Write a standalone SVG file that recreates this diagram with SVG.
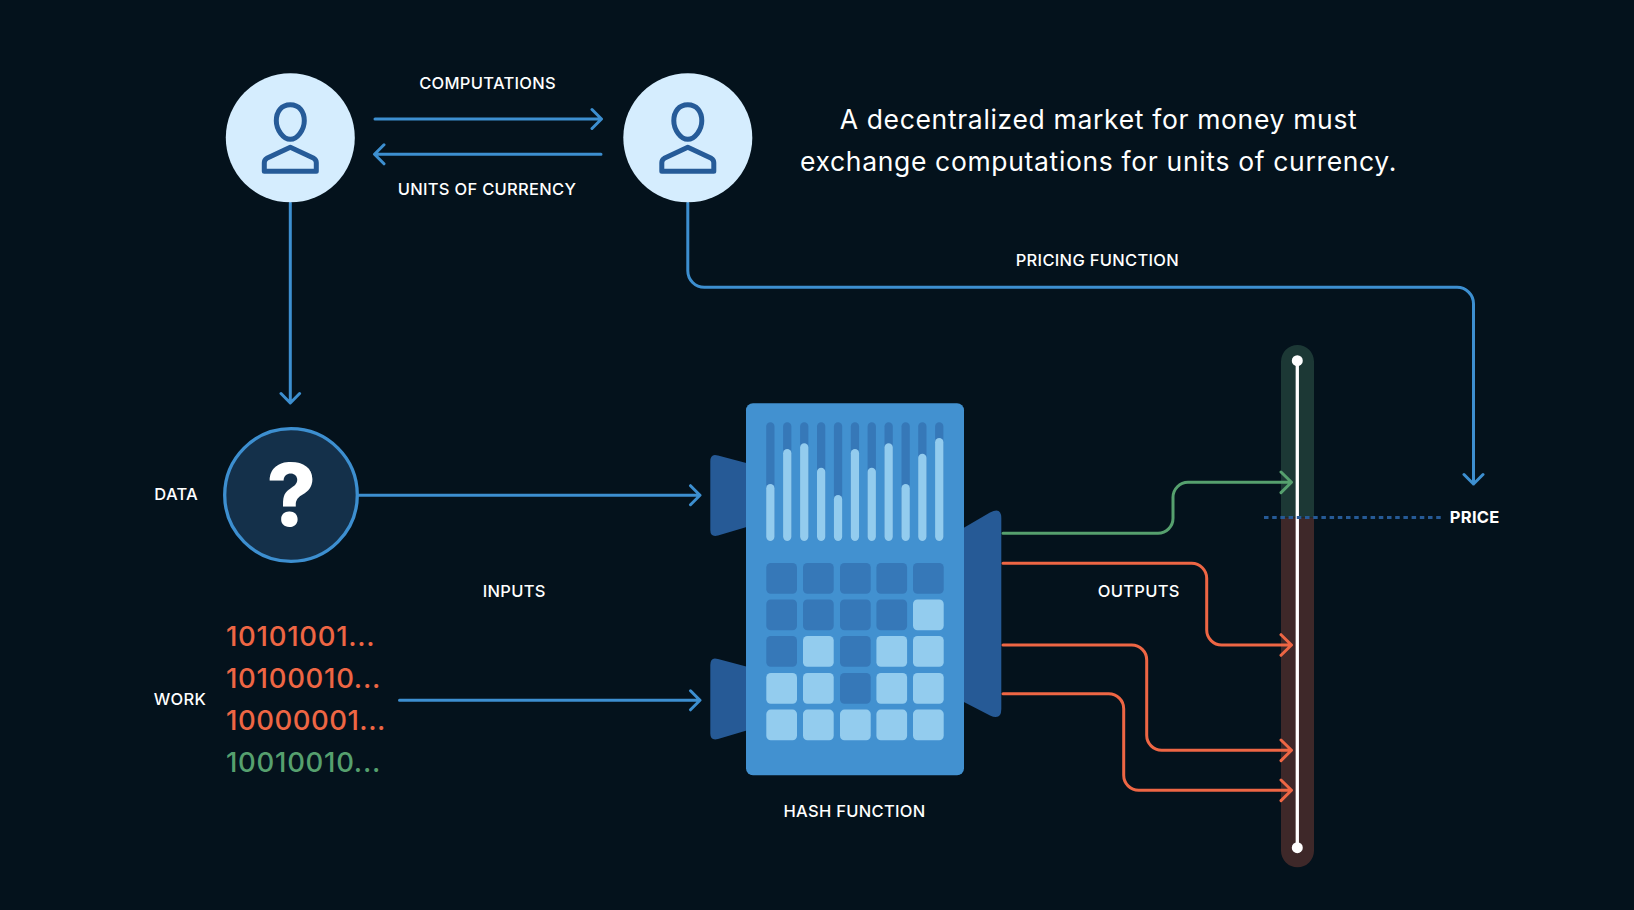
<svg xmlns="http://www.w3.org/2000/svg" width="1634" height="910" viewBox="0 0 1634 910">
<style>
.lb{font-family:Inter,"Liberation Sans",sans-serif;font-size:16.5px;font-weight:500;fill:#fff;text-anchor:middle;letter-spacing:.3px}
.hd{font-family:Inter,"Liberation Sans",sans-serif;font-size:26.5px;font-weight:400;fill:#fff;text-anchor:middle;letter-spacing:.66px}
.nm{font-family:Inter,"Liberation Sans",sans-serif;font-size:27.5px;font-weight:500;fill:#ee6644;letter-spacing:.7px}
.ic{fill:none;stroke:#265b98;stroke-width:5;stroke-linejoin:round}
.c{fill:none;stroke-width:3;stroke-linecap:round;stroke-linejoin:round}
.b{stroke:#3d8fd0}.g{stroke:#56a06e}.o{stroke:#ee6644}
.d{fill:#3678b8}.l{fill:#93ccee}.w{fill:#265a96}
</style>
<defs>
<g id="person"><circle r="64.500" fill="#d5edfe"/><path class="ic" d="M0-33C9-33 14-26 14-17C14-8 7 1.500 0 1.500C-7 1.500-14-8-14-17C-14-26-9-33 0-33Z"/><path class="ic" d="M0 9.500L23.500 20.500Q26 22 26 25V33.500H-26V25Q-26 22-23.500 20.500Z"/></g>
</defs>
<rect width="1634" height="910" fill="#04121c"/>
<g id="meter"><path d="M1281 517.500V361.500a16.500 16.500 0 0 1 33 0V517.500Z" fill="#1c3835"/><path d="M1281 517.500V850.800a16.500 16.500 0 0 0 33 0V517.500Z" fill="#3e2829"/><line x1="1297.300" y1="361" x2="1297.300" y2="848" stroke="#fff" stroke-width="3.300"/><circle cx="1297.300" cy="360.700" r="5.500" fill="#fff"/><circle cx="1297.300" cy="847.700" r="5.500" fill="#fff"/></g>
<g id="hash-function">
<path class="w" d="M710.300 461.500Q710.300 453 718 455.500L750 464V526L718 535.500Q710.300 537.500 710.300 530Z"/>
<path class="w" d="M710.300 665Q710.300 656.500 718 659L750 667.500V729.500L718 739Q710.300 741 710.300 733.500Z"/>
<path class="w" d="M960 530L990 512.500Q1001.300 506.500 1001.300 518V709Q1001.300 720.500 990 715.500L960 700Z"/>
<rect x="746" y="403.300" width="218" height="372" rx="7" fill="#4291d0"/>
<g class="d"><rect x="766.200" y="422.300" width="8.300" height="118.700" rx="4.150"/><rect x="783.100" y="422.300" width="8.300" height="118.700" rx="4.150"/><rect x="800.100" y="422.300" width="8.300" height="118.700" rx="4.150"/><rect x="817" y="422.300" width="8.300" height="118.700" rx="4.150"/><rect x="833.900" y="422.300" width="8.300" height="118.700" rx="4.150"/><rect x="850.800" y="422.300" width="8.300" height="118.700" rx="4.150"/><rect x="867.600" y="422.300" width="8.300" height="118.700" rx="4.150"/><rect x="884.500" y="422.300" width="8.300" height="118.700" rx="4.150"/><rect x="901.500" y="422.300" width="8.300" height="118.700" rx="4.150"/><rect x="918.200" y="422.300" width="8.300" height="118.700" rx="4.150"/><rect x="935.100" y="422.300" width="8.300" height="118.700" rx="4.150"/></g>
<g class="l"><rect x="766.200" y="484" width="8.300" height="57" rx="4.150"/><rect x="783.100" y="449" width="8.300" height="92" rx="4.150"/><rect x="800.100" y="443.300" width="8.300" height="97.700" rx="4.150"/><rect x="817" y="467.700" width="8.300" height="73.300" rx="4.150"/><rect x="833.900" y="495" width="8.300" height="46" rx="4.150"/><rect x="850.800" y="449" width="8.300" height="92" rx="4.150"/><rect x="867.600" y="467.700" width="8.300" height="73.300" rx="4.150"/><rect x="884.500" y="443.300" width="8.300" height="97.700" rx="4.150"/><rect x="901.500" y="484" width="8.300" height="57" rx="4.150"/><rect x="918.200" y="453.700" width="8.300" height="87.300" rx="4.150"/><rect x="935.100" y="438" width="8.300" height="103" rx="4.150"/></g>
<g class="d"><rect x="766.300" y="563" width="30.700" height="30.700" rx="4.500"/><rect x="803" y="563" width="30.700" height="30.700" rx="4.500"/><rect x="840" y="563" width="30.700" height="30.700" rx="4.500"/><rect x="876.400" y="563" width="30.700" height="30.700" rx="4.500"/><rect x="913" y="563" width="30.700" height="30.700" rx="4.500"/>
<rect x="766.300" y="599.500" width="30.700" height="30.700" rx="4.500"/><rect x="803" y="599.500" width="30.700" height="30.700" rx="4.500"/><rect x="840" y="599.500" width="30.700" height="30.700" rx="4.500"/><rect x="876.400" y="599.500" width="30.700" height="30.700" rx="4.500"/>
<rect x="766.300" y="636" width="30.700" height="30.700" rx="4.500"/><rect x="840" y="636" width="30.700" height="30.700" rx="4.500"/>
<rect x="840" y="673" width="30.700" height="30.700" rx="4.500"/></g>
<g class="l"><rect x="913" y="599.500" width="30.700" height="30.700" rx="4.500"/>
<rect x="803" y="636" width="30.700" height="30.700" rx="4.500"/><rect x="876.400" y="636" width="30.700" height="30.700" rx="4.500"/><rect x="913" y="636" width="30.700" height="30.700" rx="4.500"/>
<rect x="766.300" y="673" width="30.700" height="30.700" rx="4.500"/><rect x="803" y="673" width="30.700" height="30.700" rx="4.500"/><rect x="876.400" y="673" width="30.700" height="30.700" rx="4.500"/><rect x="913" y="673" width="30.700" height="30.700" rx="4.500"/>
<rect x="766.300" y="709.600" width="30.700" height="30.700" rx="4.500"/><rect x="803" y="709.600" width="30.700" height="30.700" rx="4.500"/><rect x="840" y="709.600" width="30.700" height="30.700" rx="4.500"/><rect x="876.400" y="709.600" width="30.700" height="30.700" rx="4.500"/><rect x="913" y="709.600" width="30.700" height="30.700" rx="4.500"/></g>
</g>
<g id="connectors">
<path class="c b" d="M375 119H601M592 109.500L601.500 119L592 128.500"/>
<path class="c b" d="M601 154.300H375M384 144.800L374.500 154.300L384 163.800"/>
<path class="c b" d="M290.300 203V402M281 393.500L290.300 403L299.600 393.500"/>
<path class="c b" d="M687.800 203V270.800a16.500 16.500 0 0 0 16.500 16.500H1457a16.500 16.500 0 0 1 16.500 16.500V484M1464 474.500L1473.500 484L1483 474.500"/>
<path class="c b" d="M359 495.200H699.500M690.500 485.700L700 495.200L690.500 504.700"/>
<path class="c b" d="M399.500 700.300H699.500M690.500 690.800L700 700.300L690.500 709.800"/>
<path class="c g" d="M1003 533.300H1158a15 15 0 0 0 15-15V497.300a15 15 0 0 1 15-15H1291M1281 472L1291.500 482.300L1281 492.600"/>
<path class="c o" d="M1003 563.300H1191.700a15 15 0 0 1 15 15V630a15 15 0 0 0 15 15H1291M1281 634.700L1291.500 645L1281 655.300"/>
<path class="c o" d="M1003 645H1131.700a15 15 0 0 1 15 15V735.300a15 15 0 0 0 15 15H1291M1281 740L1291.500 750.300L1281 760.600"/>
<path class="c o" d="M1003 693.700H1108.700a15 15 0 0 1 15 15V775.300a15 15 0 0 0 15 15H1291M1281 780L1291.500 790.300L1281 800.600"/>
<line x1="1264" y1="517.500" x2="1443" y2="517.500" stroke="#265a96" stroke-width="3" stroke-dasharray="4.500 3.700"/>
</g>
<g id="user-a" transform="translate(290.300,137.800)"><use href="#person"/></g>
<g id="user-b" transform="translate(687.800,137.800)"><use href="#person"/></g>
<g id="unknown-data"><circle cx="291" cy="495" r="66.300" fill="#14304a" stroke="#3d8fd0" stroke-width="3.300"/><text x="291.500" y="526" font-family="Inter,'Liberation Sans',sans-serif" font-size="86" font-weight="800" fill="#fff" text-anchor="middle">?</text></g>
<g id="labels">
<text class="lb" x="487.600" y="89">COMPUTATIONS</text>
<text class="lb" x="487" y="195">UNITS OF CURRENCY</text>
<text class="lb" x="1097.400" y="266">PRICING FUNCTION</text>
<text class="lb" x="514.300" y="597">INPUTS</text>
<text class="lb" x="1138.800" y="596.500">OUTPUTS</text>
<text class="lb" x="854.500" y="816.500">HASH FUNCTION</text>
<text class="lb" x="176.200" y="499.500">DATA</text>
<text class="lb" x="180" y="705">WORK</text>
<text class="lb" x="1474.700" y="522.800" style="font-weight:700">PRICE</text>
<text class="hd" x="1098.500" y="129">A decentralized market for money must</text>
<text class="hd" x="1098.500" y="171">exchange computations for units of currency.</text>
<text class="nm" x="226" y="645.700">10101001...</text>
<text class="nm" x="226" y="687.700">10100010...</text>
<text class="nm" x="226" y="729.700" style="letter-spacing:.5px">10000001...</text>
<text class="nm" x="226" y="771.700" style="fill:#56a06e">10010010...</text>
</g>
</svg>
